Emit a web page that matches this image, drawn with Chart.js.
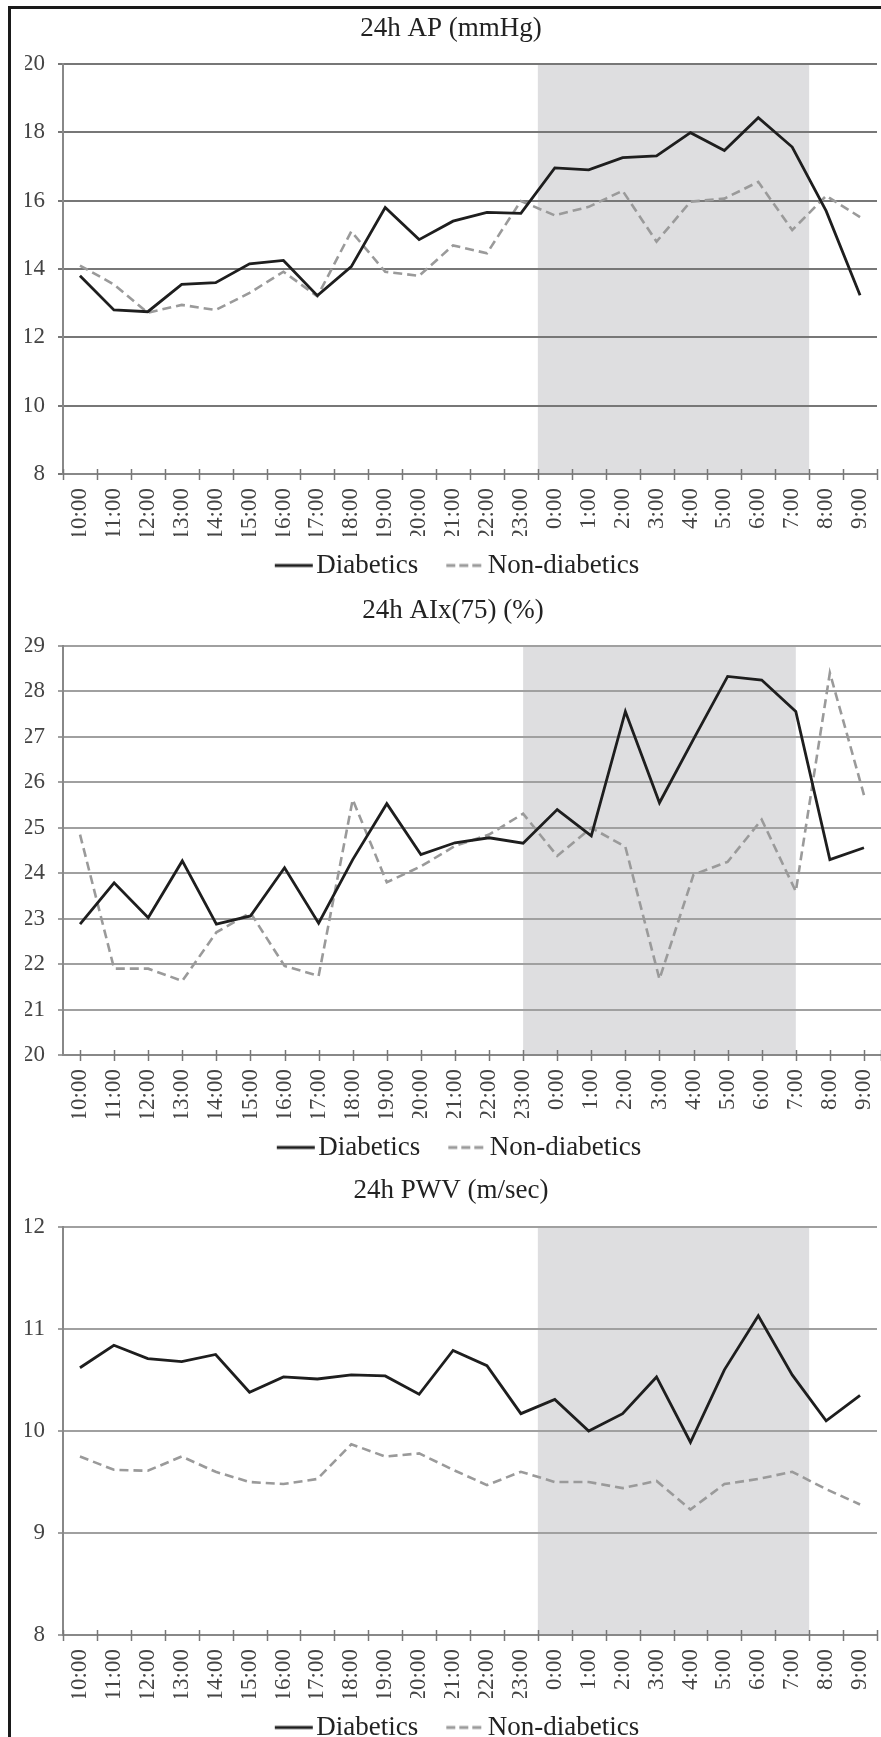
<!DOCTYPE html>
<html>
<head>
<meta charset="utf-8">
<script src="https://cdn.jsdelivr.net/npm/chart.js@4.4.1/dist/chart.umd.min.js"></script>
<style>
  html, body { margin: 0; padding: 0; background: #fff; overflow: hidden; }
  #page { position: relative; width: 881px; height: 1737px; overflow: hidden; background: #fff; }
  .frame { position: absolute; left: 8px; top: 6px; width: 900px; height: 1800px;
           border-left: 3px solid #1a1a1a; border-top: 3px solid #1a1a1a; }
  canvas { position: absolute; left: 0; }
</style>
</head>
<body>
<div id="page">
<div class="frame"></div>
<canvas id="chartAP" width="881" height="588" style="top:1px"></canvas>
<canvas id="chartAIx" width="881" height="580" style="top:591px"></canvas>
<canvas id="chartPWV" width="881" height="578" style="top:1173px"></canvas>
</div>
<script>
document.addEventListener("DOMContentLoaded", () => {

    const hours = ["10:00", "11:00", "12:00", "13:00", "14:00", "15:00", "16:00", "17:00",
        "18:00", "19:00", "20:00", "21:00", "22:00", "23:00", "0:00", "1:00", "2:00", "3:00",
        "4:00", "5:00", "6:00", "7:00", "8:00", "9:00"];

    // 24h AP (mmHg)
    const apDiabetics = [13.8, 12.8, 12.75, 13.55, 13.6, 14.15, 14.25, 13.22, 14.07, 15.8, 14.86, 15.4,
        15.66, 15.63, 16.96, 16.9, 17.26, 17.31, 17.99, 17.47, 18.43, 17.57, 15.7, 13.23];
    const apNonDiabetics = [14.1, 13.55, 12.72, 12.95, 12.8, 13.3, 13.92, 13.2, 15.1, 13.92, 13.8, 14.69,
        14.46, 15.99, 15.57, 15.82, 16.29, 14.8, 15.97, 16.06, 16.55, 15.14, 16.14, 15.52];
    const apTicks = [8, 10, 12, 14, 16, 18, 20];

    // 24h AIx(75) (%)
    const aixDiabetics = [22.88, 23.79, 23.02, 24.27, 22.88, 23.06, 24.12, 22.9, 24.3, 25.53, 24.41, 24.67,
        24.78, 24.66, 25.4, 24.82, 27.56, 25.55, 26.95, 28.33, 28.25, 27.56, 24.3, 24.56];
    const aixNonDiabetics = [24.85, 21.9, 21.9, 21.63, 22.7, 23.13, 21.96, 21.74, 25.62, 23.8, 24.15, 24.6,
        24.85, 25.31, 24.38, 25.0, 24.58, 21.67, 23.97, 24.25, 25.18, 23.6, 28.41, 25.72];
    const aixTicks = [20, 21, 22, 23, 24, 25, 26, 27, 28, 29];

    // 24h PWV (m/sec)
    const pwvDiabetics = [10.62, 10.84, 10.71, 10.68, 10.75, 10.38, 10.53, 10.51, 10.55, 10.54, 10.36, 10.79,
        10.64, 10.17, 10.31, 10.0, 10.17, 10.53, 9.89, 10.6, 11.13, 10.55, 10.1, 10.35];
    const pwvNonDiabetics = [9.75, 9.62, 9.61, 9.75, 9.6, 9.5, 9.48, 9.53, 9.87, 9.75, 9.78, 9.62,
        9.47, 9.6, 9.5, 9.5, 9.44, 9.51, 9.23, 9.48, 9.53, 9.6, 9.43, 9.28];
    const pwvTicks = [8, 9, 10, 11, 12];

    // night period (grey band), in category positions
    const nightAP = [13.5, 21.5];
    const nightAIx = [13, 21];
    const nightPWV = [13.5, 21.5];

    const serif = "'Liberation Serif', 'Times New Roman', serif";

    function legendLine(color, dash) {
        const c = document.createElement("canvas");
        c.width = 62;
        c.height = 6;
        const g = c.getContext("2d");
        g.strokeStyle = color;
        g.lineWidth = 3;
        g.setLineDash(dash);
        g.beginPath();
        g.moveTo(23, 3);
        g.lineTo(61, 3);
        g.stroke();
        return c;
    }
    const solidKey = legendLine("#1e1e1e", []);
    const dashKey = legendLine("#9a9a9a", [9, 4]);

    const nightShade = {
        id: "nightShade",
        beforeDraw(chart, args, opts) {
            const { ctx, chartArea } = chart;
            const x = chart.scales.x;
            const x0 = x.getPixelForValue(opts.range[0]);
            const x1 = x.getPixelForValue(opts.range[1]);
            ctx.save();
            ctx.fillStyle = "#dedee0";
            ctx.fillRect(x0, chartArea.top, x1 - x0, chartArea.bottom - chartArea.top);
            ctx.restore();
        }
    };

    const crossTicks = {
        id: "crossTicks",
        afterDraw(chart, args, opts) {
            const { ctx, chartArea } = chart;
            const x = chart.scales.x;
            const n = chart.data.labels.length;
            const pos = [];
            if (opts.between) {
                for (let i = 0; i <= n; i++) pos.push(x.getPixelForValue(i - 0.5));
            } else {
                for (let i = 0; i < n; i++) pos.push(x.getPixelForValue(i));
                pos.push(x.getPixelForValue(n - 0.5));
            }
            ctx.save();
            ctx.strokeStyle = "#777";
            ctx.lineWidth = 1.5;
            ctx.beginPath();
            pos.forEach(p => {
                ctx.moveTo(Math.round(p) + 0.5, chartArea.bottom - 5);
                ctx.lineTo(Math.round(p) + 0.5, chartArea.bottom + 6);
            });
            ctx.stroke();
            ctx.restore();
        }
    };

    function makeChart(id, o) {
        new Chart(document.getElementById(id), {
            type: "line",
            data: {
                labels: hours,
                datasets: [
                    {
                        label: "Diabetics",
                        data: o.diab,
                        borderColor: "#1e1e1e",
                        borderWidth: 2.8,
                        pointRadius: 0,
                        pointStyle: solidKey,
                        tension: 0,
                        fill: false
                    },
                    {
                        label: "Non-diabetics",
                        data: o.nondiab,
                        borderColor: "#9a9a9a",
                        borderWidth: 2.6,
                        borderDash: [9, 5],
                        pointRadius: 0,
                        pointStyle: dashKey,
                        tension: 0,
                        fill: false
                    }
                ]
            },
            options: {
                responsive: false,
                animation: false,
                layout: { padding: { left: 25, right: o.padRight, top: 0, bottom: 0 } },
                plugins: {
                    title: {
                        display: true,
                        text: o.title,
                        color: "#222",
                        font: { family: serif, size: 27, weight: "normal" },
                        padding: { top: o.titleTop, bottom: o.titleBottom }
                    },
                    legend: {
                        display: true,
                        position: "bottom",
                        labels: {
                            usePointStyle: true,
                            pointStyleWidth: 40,
                            padding: 16,
                            color: "#222",
                            font: { family: serif, size: 27 }
                        }
                    },
                    tooltip: { enabled: false },
                    nightShade: { range: o.night },
                    crossTicks: { between: o.between }
                },
                scales: {
                    x: {
                        offset: true,
                        afterFit(s) {
                            s.height = o.xHeight;
                            s.paddingLeft = 0;
                            s.paddingRight = 0;
                        },
                        grid: { display: true, drawOnChartArea: false, drawTicks: false, offset: o.between },
                        border: { display: true, color: "#888", width: 2 },
                        ticks: {
                            autoSkip: false,
                            minRotation: 90,
                            maxRotation: 90,
                            padding: 14,
                            color: "#444",
                            font: { family: serif, size: 23 }
                        }
                    },
                    y: {
                        min: o.ticks[0],
                        max: o.ticks[o.ticks.length - 1],
                        afterFit(s) { s.width = 38; },
                        afterBuildTicks(s) { s.ticks = o.ticks.map(v => ({ value: v })); },
                        grid: { color: o.gridColor, lineWidth: 2, tickLength: 5 },
                        border: { display: true, color: "#888", width: 2 },
                        ticks: {
                            padding: 13,
                            color: "#444",
                            font: { family: serif, size: 23 }
                        }
                    }
                }
            },
            plugins: [nightShade, crossTicks]
        });
    }

    makeChart("chartAP", {
        title: "24h AP (mmHg)", diab: apDiabetics, nondiab: apNonDiabetics, ticks: apTicks,
        night: nightAP, between: true, padRight: 4, titleTop: 12, titleBottom: 18.6,
        xHeight: 62, gridColor: "#777"
    });
    makeChart("chartAIx", {
        title: "24h AIx(75) (%)", diab: aixDiabetics, nondiab: aixNonDiabetics, ticks: aixTicks,
        night: nightAIx, between: false, padRight: 0, titleTop: 4, titleBottom: 18.6,
        xHeight: 63, gridColor: "#a0a0a0"
    });
    makeChart("chartPWV", {
        title: "24h PWV (m/sec)", diab: pwvDiabetics, nondiab: pwvNonDiabetics, ticks: pwvTicks,
        night: nightPWV, between: true, padRight: 4, titleTop: 2, titleBottom: 19.6,
        xHeight: 63, gridColor: "#a0a0a0"
    });

});
</script>
</body>
</html>
